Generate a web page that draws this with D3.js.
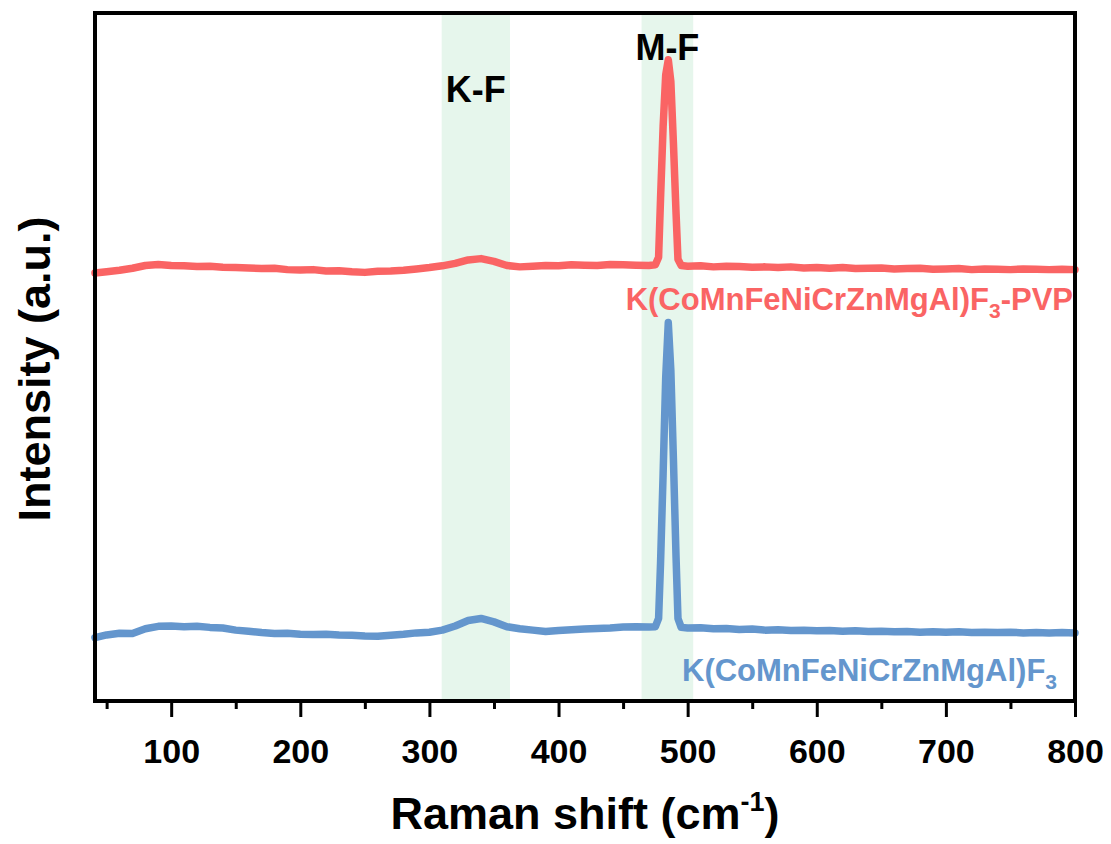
<!DOCTYPE html>
<html>
<head>
<meta charset="utf-8">
<script src="https://cdn.jsdelivr.net/npm/d3@7"></script>
<style>
  body { margin: 0; background: #fff; }
  text { font-family: Arial, "Liberation Sans", sans-serif; font-weight: bold; }
</style>
</head>
<body>
<div id="chart"></div>
<script>
// Raman shift (cm-1) shared by both spectra
const shift = [41, 50, 60, 70, 80, 90, 100, 110, 120, 130, 140, 150, 160, 170, 180, 190,
  200, 210, 220, 230, 240, 250, 260, 270, 280, 290, 300, 310, 320, 330, 340, 350, 360,
  370, 380, 390, 400, 410, 420, 430, 440, 450, 460, 470, 475, 477.5, 479, 481, 483, 485,
  487, 489, 491, 492.5, 495, 500, 510, 520, 530, 540, 550, 560, 570, 580, 590, 600, 610,
  620, 630, 640, 650, 660, 670, 680, 690, 700, 710, 720, 730, 740, 750, 760, 770, 780,
  790, 800];

// K(CoMnFeNiCrZnMgAl)F3-PVP (offset, upper trace)
const pvp = [62.2, 62.4, 62.6, 62.9, 63.3, 63.45, 63.3, 63.25, 63.15, 63.2, 63.05, 63.0,
  62.95, 62.85, 62.9, 62.7, 62.65, 62.7, 62.5, 62.55, 62.4, 62.3, 62.45, 62.5, 62.6, 62.8,
  63.0, 63.25, 63.6, 64.1, 64.3, 63.9, 63.3, 63.1, 63.2, 63.3, 63.25, 63.4, 63.35, 63.3,
  63.45, 63.4, 63.35, 63.3, 63.4, 64.5, 73, 83.5, 91, 93.2, 90, 81, 71, 64.2, 63.3, 63.2,
  63.25, 63.1, 63.2, 63.15, 63.05, 63.1, 63.0, 63.1, 62.95, 63.0, 62.9, 63.0, 62.85, 62.9,
  62.95, 62.8, 62.85, 62.9, 62.75, 62.8, 62.85, 62.7, 62.8, 62.75, 62.7, 62.8, 62.75, 62.7,
  62.75, 62.7];

// K(CoMnFeNiCrZnMgAl)F3 (lower trace)
const bare = [9.2, 9.6, 9.85, 9.8, 10.5, 10.85, 10.9, 10.8, 10.85, 10.7, 10.6, 10.3, 10.15,
  9.95, 9.8, 9.85, 9.7, 9.65, 9.7, 9.6, 9.55, 9.45, 9.4, 9.55, 9.7, 9.9, 10.0, 10.3, 10.9,
  11.7, 12.0, 11.5, 10.8, 10.5, 10.3, 10.1, 10.25, 10.35, 10.45, 10.55, 10.6, 10.75, 10.8,
  10.75, 10.8, 12, 20, 33, 47, 55, 48, 35, 21, 12, 10.7, 10.6, 10.65, 10.5, 10.55, 10.4,
  10.45, 10.3, 10.35, 10.25, 10.3, 10.2, 10.25, 10.15, 10.2, 10.1, 10.15, 10.05, 10.1, 10.0,
  10.05, 10.0, 10.05, 9.95, 10.0, 9.95, 10.0, 9.9, 9.95, 9.9, 9.95, 9.9];

const seriesNames = ["K(CoMnFeNiCrZnMgAl)F", "K(CoMnFeNiCrZnMgAl)F"];
const seriesSuffix = ["-PVP", ""];
const seriesColors = ["#fa6464", "#6496cd"];

const majorTicks = [100, 200, 300, 400, 500, 600, 700, 800];
const minorTicks = [50, 150, 250, 350, 450, 550, 650, 750];

const bandLabels = ["K-F", "M-F"];
const bandFrom = [309.5, 464.3];
const bandTo = [362.4, 504.3];

const width = 1111, height = 844;
const margin = { top: 13, right: 36, bottom: 143, left: 95 };

const x = d3.scaleLinear()
  .domain([41, 800])
  .range([margin.left, width - margin.right]);

const y = d3.scaleLinear()
  .domain([0, 100])
  .range([height - margin.bottom, margin.top]);

const svg = d3.select("#chart").append("svg")
  .attr("width", width)
  .attr("height", height);

// shaded bands
svg.append("g").selectAll("rect")
  .data(bandLabels)
  .join("rect")
    .attr("x", (d, i) => x(bandFrom[i]))
    .attr("width", (d, i) => x(bandTo[i]) - x(bandFrom[i]))
    .attr("y", margin.top)
    .attr("height", height - margin.bottom - margin.top)
    .attr("fill", "#e6f6ec");

const labelBase = [102, 60];
svg.append("g").selectAll("text")
  .data(bandLabels)
  .join("text")
    .attr("x", (d, i) => x((bandFrom[i] + bandTo[i]) / 2))
    .attr("y", (d, i) => labelBase[i])
    .attr("text-anchor", "middle")
    .attr("font-size", 36)
    .attr("fill", "#000")
    .text(d => d);

const line = d3.line()
  .curve(d3.curveLinear)
  .x((d, i) => x(shift[i]))
  .y(d => y(d));

[pvp, bare].forEach((s, k) => {
  svg.append("path")
    .datum(s)
    .attr("fill", "none")
    .attr("stroke", seriesColors[k])
    .attr("stroke-width", 7.5)
    .attr("stroke-linejoin", "round")
    .attr("stroke-linecap", "round")
    .attr("d", line);
});

// series labels
const nameBase = [310, 681];
const nameRight = [1073, 1057];
seriesNames.forEach((n, k) => {
  const t = svg.append("text")
    .attr("x", nameRight[k])
    .attr("y", nameBase[k])
    .attr("text-anchor", "end")
    .attr("font-size", 31)
    .attr("fill", seriesColors[k]);
  t.append("tspan").text(n);
  t.append("tspan").attr("font-size", 21).attr("dy", 8).text("3");
  if (seriesSuffix[k]) t.append("tspan").attr("dy", -8).text(seriesSuffix[k]);
});

// x axis
const xAxis = svg.append("g")
  .attr("transform", `translate(0,${height - margin.bottom})`)
  .call(d3.axisBottom(x).tickValues(majorTicks).tickSize(16).tickPadding(22).tickFormat(d3.format("d")));
xAxis.select(".domain").remove();
xAxis.selectAll(".tick line").attr("stroke", "#000").attr("stroke-width", 3);
xAxis.selectAll(".tick text")
  .attr("font-size", 34)
  .attr("font-family", "Arial, 'Liberation Sans', sans-serif")
  .attr("font-weight", "bold")
  .attr("fill", "#000");

const xMinor = svg.append("g")
  .attr("transform", `translate(0,${height - margin.bottom})`)
  .call(d3.axisBottom(x).tickValues(minorTicks).tickSize(8).tickFormat(""));
xMinor.select(".domain").remove();
xMinor.selectAll(".tick line").attr("stroke", "#000").attr("stroke-width", 3);

// frame
svg.append("rect")
  .attr("x", margin.left)
  .attr("y", margin.top)
  .attr("width", width - margin.left - margin.right)
  .attr("height", height - margin.top - margin.bottom)
  .attr("fill", "none")
  .attr("stroke", "#000")
  .attr("stroke-width", 4);

// axis titles
const xt = svg.append("text")
  .attr("x", (margin.left + width - margin.right) / 2)
  .attr("y", 829)
  .attr("text-anchor", "middle")
  .attr("font-size", 45)
  .attr("fill", "#000");
xt.append("tspan").text("Raman shift (cm");
xt.append("tspan").attr("font-size", 27).attr("dy", -18).text("-1");
xt.append("tspan").attr("dy", 18).text(")");

svg.append("text")
  .attr("transform", `translate(50,${(margin.top + height - margin.bottom) / 2 + 12}) rotate(-90)`)
  .attr("text-anchor", "middle")
  .attr("font-size", 45)
  .attr("fill", "#000")
  .text("Intensity (a.u.)");
</script>
</body>
</html>
